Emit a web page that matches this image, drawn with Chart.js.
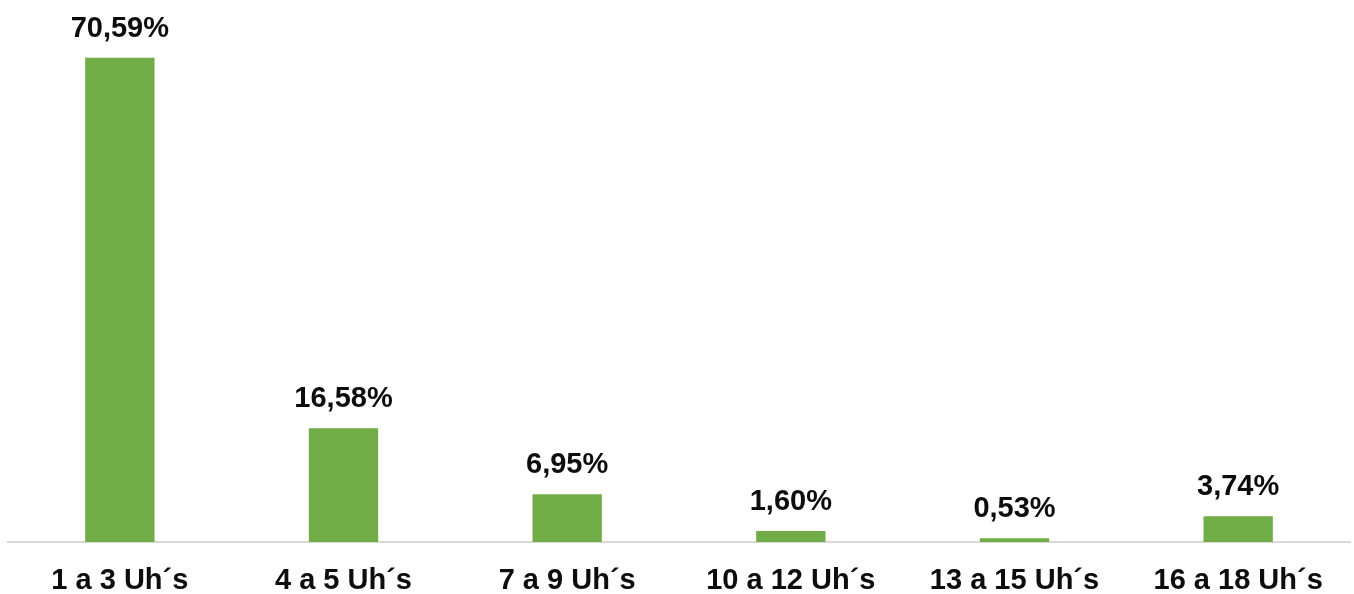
<!DOCTYPE html>
<html>
<head>
<meta charset="utf-8">
<script src="https://cdn.jsdelivr.net/npm/chart.js@4"></script>
<style>
  html, body { margin: 0; padding: 0; background: #fff; }
  #wrap { width: 1354px; height: 594px; }
</style>
</head>
<body>
<div id="wrap"><canvas id="chart"></canvas></div>
<script>
// data
var categories = ["1 a 3 Uh´s", "4 a 5 Uh´s", "7 a 9 Uh´s", "10 a 12 Uh´s", "13 a 15 Uh´s", "16 a 18 Uh´s"];
var percentages = [70.59, 16.58, 6.95, 1.60, 0.53, 3.74];

function fmt(v) {
  return v.toFixed(2).replace(".", ",") + "%";
}

// labels over bars
var barLabels = {
  id: "barLabels",
  afterDatasetsDraw: function (chart) {
    var ctx = chart.ctx;
    var meta = chart.getDatasetMeta(0);
    ctx.save();
    ctx.font = "bold 29px 'Liberation Sans', Arial, sans-serif";
    ctx.fillStyle = "#0d0d0d";
    ctx.textAlign = "center";
    ctx.textBaseline = "alphabetic";
    meta.data.forEach(function (bar, i) {
      ctx.fillText(fmt(percentages[i]), bar.x, bar.y - 21);
    });
    ctx.restore();
  }
};

new Chart(document.getElementById("chart").getContext("2d"), {
  type: "bar",
  data: {
    labels: categories,
    datasets: [
      {
        data: percentages,
        backgroundColor: "#70ad47",
        borderWidth: 0,
        barPercentage: 1,
        categoryPercentage: 0.31
      }
    ]
  },
  options: {
    responsive: true,
    maintainAspectRatio: false,
    animation: false,
    layout: {
      padding: { left: 8, right: 4, top: 0, bottom: -25 }
    },
    scales: {
      x: {
        grid: { display: false, drawTicks: false },
        border: { display: true, color: "#d9d9d9", width: 2 },
        ticks: {
          color: "#0d0d0d",
          padding: 24,
          font: { family: "'Liberation Sans', Arial, sans-serif", size: 29, weight: "bold", lineHeight: 1 }
        }
      },
      y: {
        display: false,
        min: 0,
        max: 79
      }
    },
    plugins: {
      legend: { display: false },
      tooltip: { enabled: false }
    }
  },
  plugins: [barLabels]
});
</script>
</body>
</html>
